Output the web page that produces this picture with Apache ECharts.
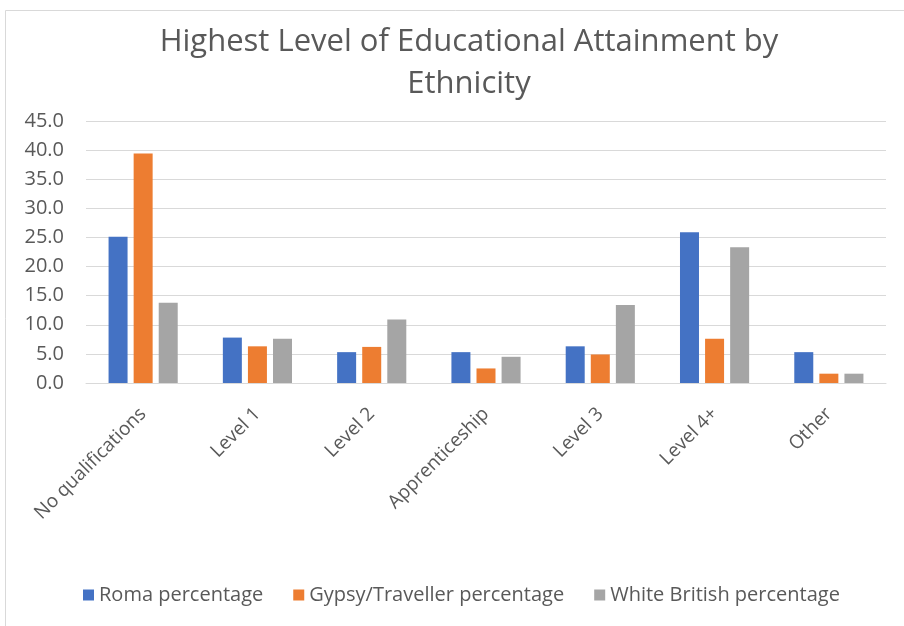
<!DOCTYPE html>
<html>
<head>
<meta charset="utf-8">
<script src="https://cdn.jsdelivr.net/npm/echarts@6/dist/echarts.min.js"></script>
<style>
  html, body { margin: 0; padding: 0; background: #ffffff; }
  #chart { width: 904px; height: 626px; }
</style>
</head>
<body>
<div id="chart"></div>
<script>
// Qualification categories along the x axis
const categories = ['No qualifications', 'Level 1', 'Level 2', 'Apprenticeship', 'Level 3', 'Level 4+', 'Other'];

// Percentages per ethnic group
const romaPct = [25.1, 7.8, 5.3, 5.3, 6.3, 25.9, 5.3];
const gypsyTravellerPct = [39.4, 6.3, 6.2, 2.5, 4.9, 7.6, 1.6];
const whiteBritishPct = [13.8, 7.6, 10.9, 4.5, 13.4, 23.3, 1.6];

const seriesNames = ['Roma percentage', 'Gypsy/Traveller percentage', 'White British percentage'];
const seriesColors = ['#4472c4', '#ed7d31', '#a5a5a5'];

const FONT = '"Open Sans", "Noto Sans", sans-serif';
const TEXT = '#595959';

const chart = echarts.init(document.getElementById('chart'), null, { renderer: 'canvas' });

const values = [romaPct, gypsyTravellerPct, whiteBritishPct];

chart.setOption({
  backgroundColor: '#ffffff',
  animation: false,
  title: {
    text: 'Highest Level of Educational Attainment by\nEthnicity',
    left: 464,
    textAlign: 'center',
    top: 16,
    textStyle: {
      fontFamily: FONT,
      fontSize: 31,
      fontWeight: 'normal',
      color: TEXT,
      lineHeight: 42
    }
  },
  legend: {
    bottom: 16,
    left: 78,
    itemWidth: 11,
    itemHeight: 11,
    itemGap: 30,
    icon: 'rect',
    textStyle: { fontFamily: FONT, fontSize: 20, color: TEXT }
  },
  grid: {
    left: 86,
    right: 18,
    top: 121,
    bottom: 243,
    containLabel: false
  },
  xAxis: {
    type: 'category',
    data: categories,
    axisTick: { show: false },
    axisLine: { lineStyle: { color: '#d9d9d9', width: 1 } },
    axisLabel: {
      rotate: 45,
      interval: 0,
      margin: 28,
      fontFamily: FONT,
      fontSize: 19,
      color: TEXT
    }
  },
  yAxis: {
    type: 'value',
    min: 0,
    max: 45,
    interval: 5,
    axisLine: { show: false },
    axisTick: { show: false },
    splitLine: { lineStyle: { color: '#d9d9d9', width: 1 } },
    axisLabel: {
      margin: 22,
      fontFamily: FONT,
      fontSize: 20,
      color: TEXT,
      formatter: v => v.toFixed(1)
    }
  },
  series: seriesNames.map((name, i) => ({
    name,
    type: 'bar',
    data: values[i],
    barWidth: 19,
    barGap: '32%',
    itemStyle: { color: seriesColors[i] }
  })),
  graphic: [{
    type: 'rect',
    shape: { x: 5.5, y: 10.5, width: 910, height: 630 },
    style: { fill: null, stroke: '#d9d9d9', lineWidth: 1 },
    silent: true,
    z: -1
  }]
});
</script>
</body>
</html>
